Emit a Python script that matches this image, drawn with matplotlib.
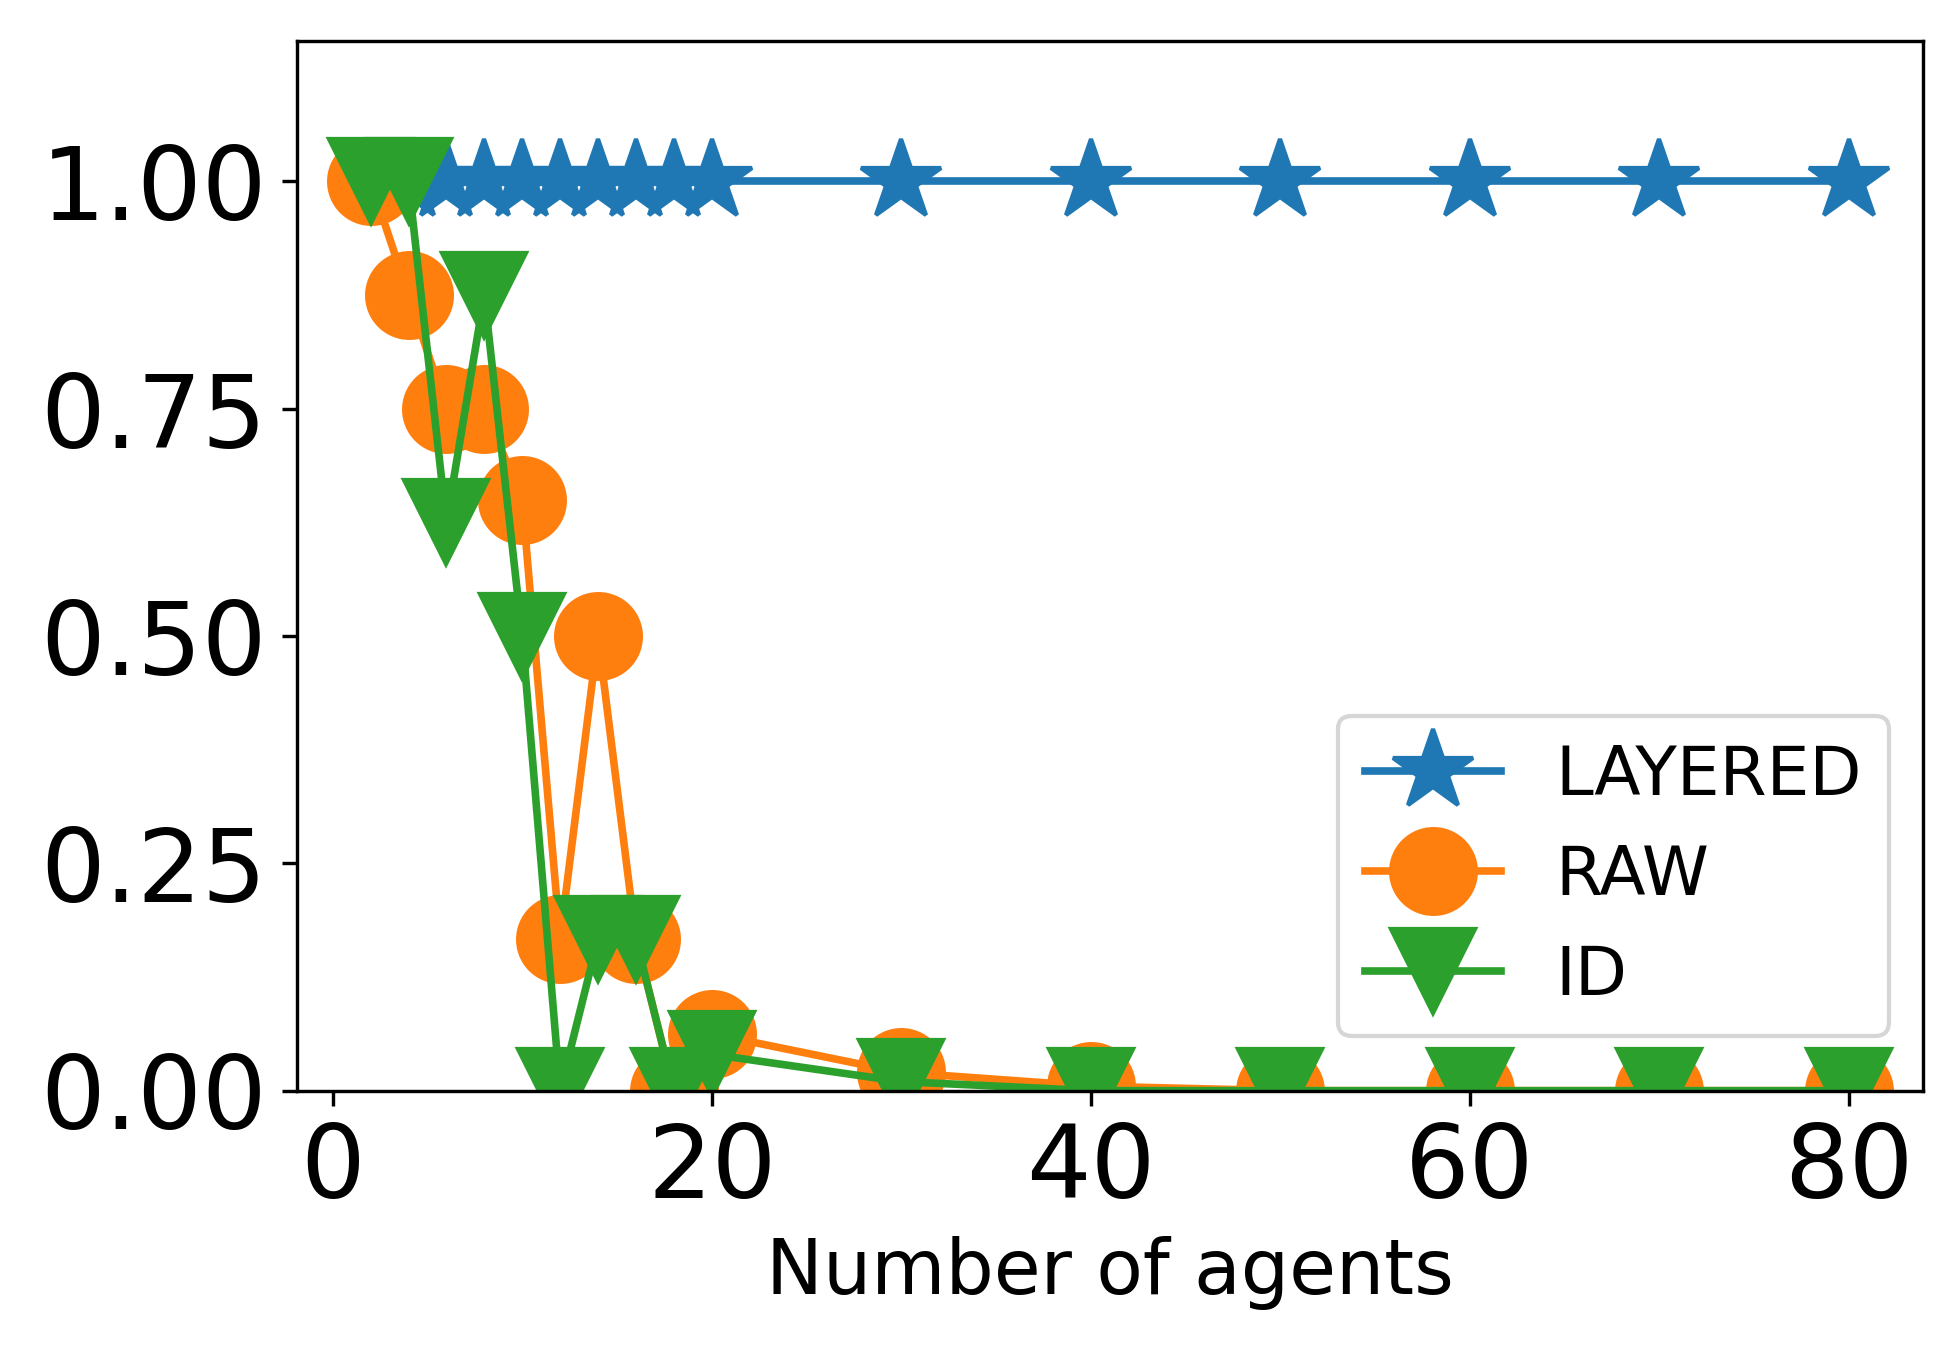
import matplotlib
matplotlib.use("Agg")
import matplotlib.pyplot as plt

x = [2, 4, 6, 8, 10, 12, 14, 16, 18, 20, 30, 40, 50, 60, 70, 80]
layered = [1.0] * 16
raw = [1.0, 0.875, 0.75, 0.75, 0.65, 0.167, 0.5, 0.167, 0.0, 0.0625, 0.02, 0.005, 0.0, 0.0, 0.0, 0.0]
idv = [1.0, 1.0, 0.625, 0.875, 0.5, 0.0, 0.167, 0.167, 0.0, 0.04, 0.01, 0.0, 0.0, 0.0, 0.0, 0.0]

fig = plt.figure(figsize=(6.4, 4.46), dpi=305)
ax = fig.add_axes([0.152, 0.198, 0.833, 0.772])
ax.plot(x, layered, marker='*', markersize=20, lw=1.8, label='LAYERED', color='#1f77b4')
ax.plot(x, raw, marker='o', markersize=20, lw=1.8, label='RAW', color='#ff7f0e')
ax.plot(x, idv, marker='v', markersize=20, lw=1.8, label='ID', color='#2ca02c')
ax.set_ylim(0, 1.155)
ax.set_yticks([0, 0.25, 0.5, 0.75, 1.0])
ax.set_yticklabels(['0.00', '0.25', '0.50', '0.75', '1.00'])
ax.tick_params(labelsize=24)
ax.set_xlabel('Number of agents', fontsize=18)
ax.legend(loc='lower right', fontsize=16, markerscale=1.0, bbox_to_anchor=(1.0, 0.02))
fig.savefig('out.png', dpi=305)
